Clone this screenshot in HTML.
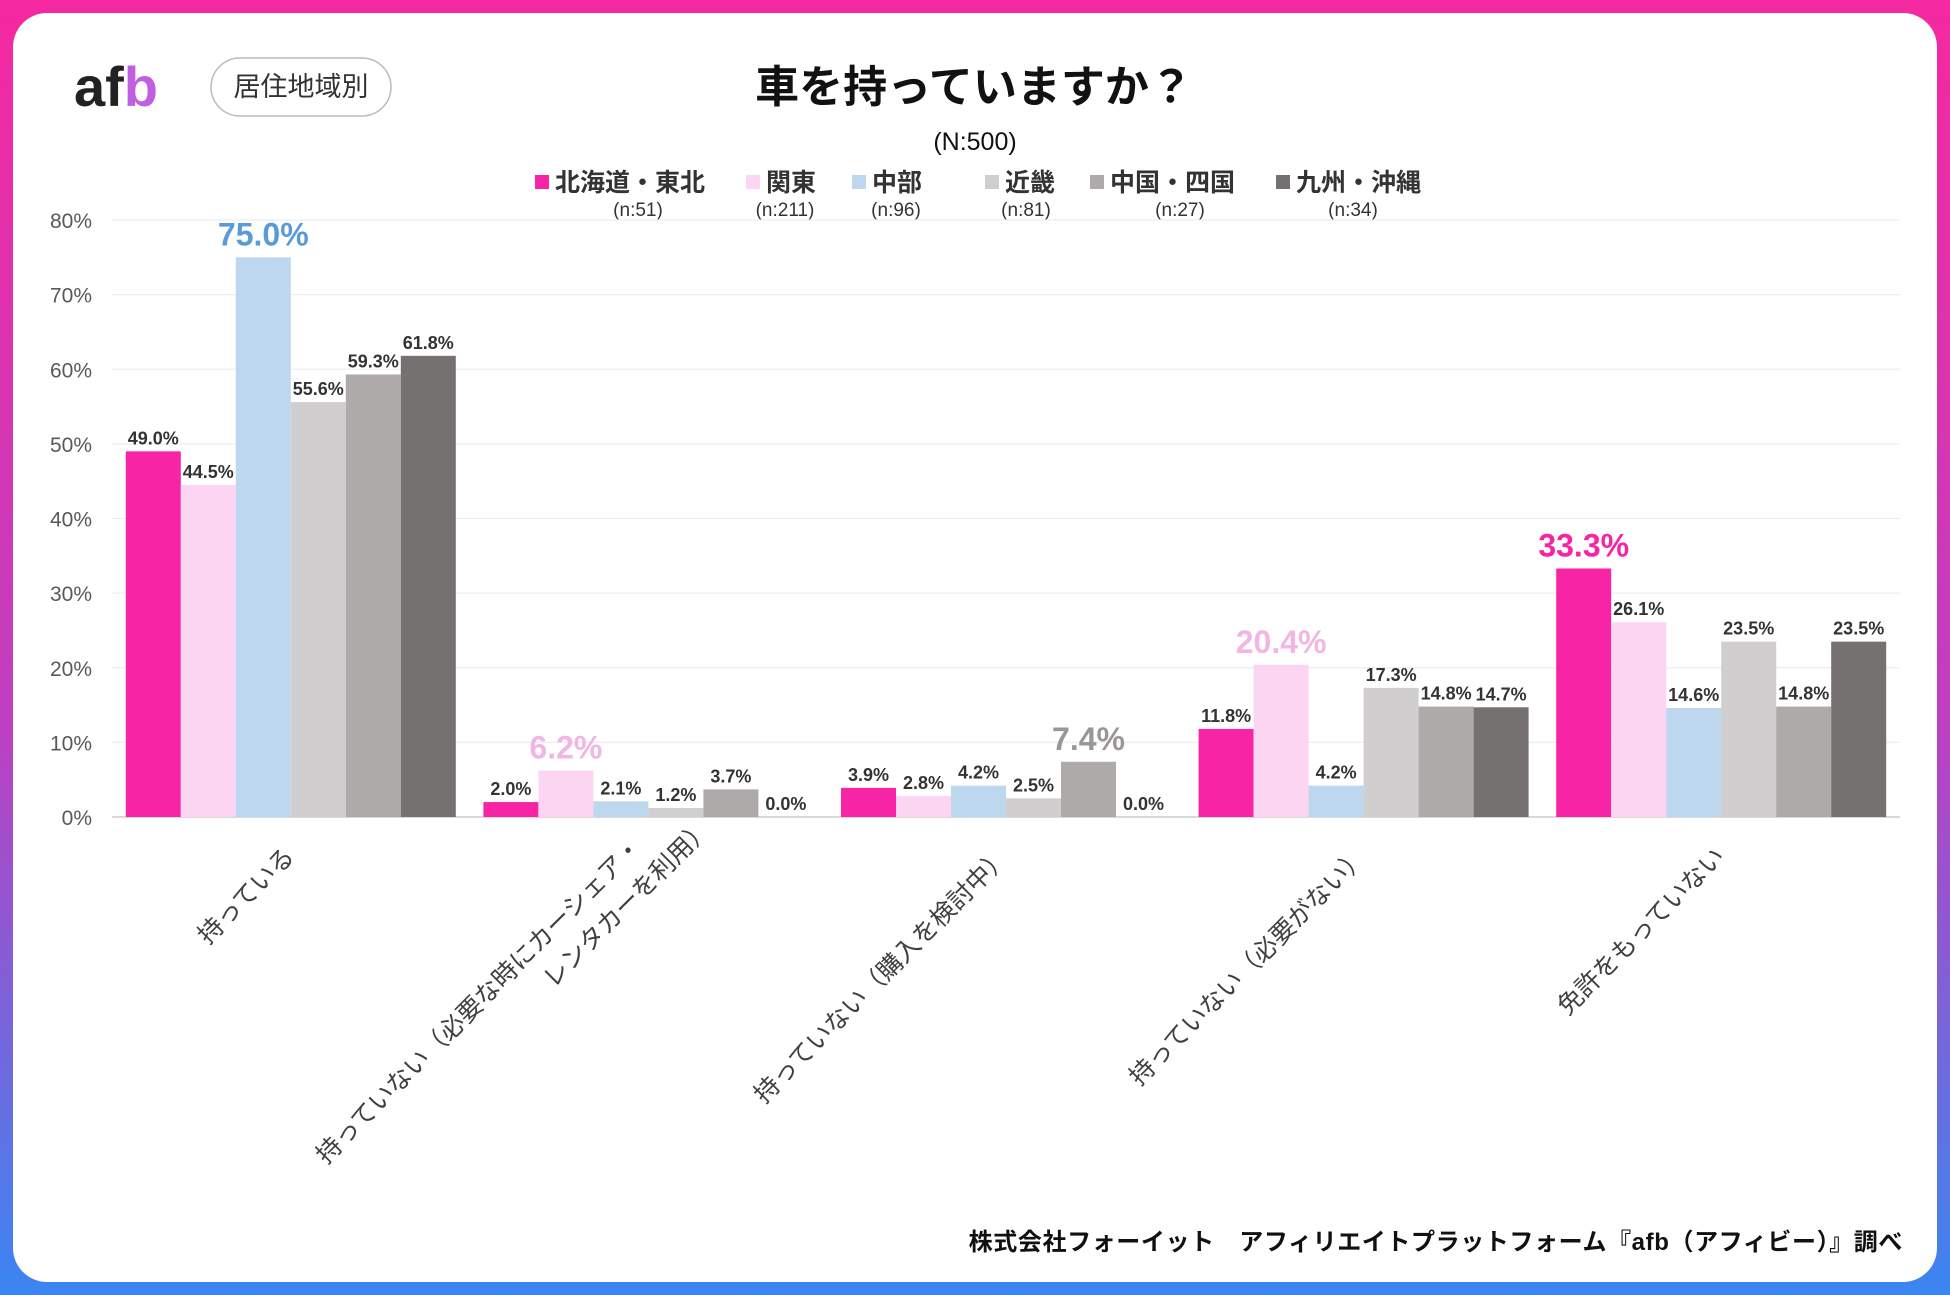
<!DOCTYPE html>
<html><head><meta charset="utf-8">
<style>
html,body{margin:0;padding:0;}
body{width:1950px;height:1295px;overflow:hidden;font-family:"Liberation Sans","Noto Sans CJK JP",sans-serif;}
#frame{position:absolute;left:0;top:0;width:1950px;height:1295px;background:linear-gradient(180deg,#f5289f 0%,#c03ec0 55%,#3a86f2 100%);}
#inner{position:absolute;left:13px;top:13px;width:1924px;height:1269px;background:#fff;border-radius:34px;}
svg{position:absolute;left:0;top:0;}
</style></head>
<body>
<div id="frame"></div>
<div id="inner"></div>
<svg id="chart" width="1950" height="1295" font-family="Liberation Sans, Noto Sans CJK JP, sans-serif">
  <text x="74" y="106" font-size="56" font-weight="bold" fill="#222">af<tspan fill="#c060e0">b</tspan></text>
  <rect x="211" y="58" width="180" height="58" rx="29" fill="#fff" stroke="#bbb" stroke-width="1.5"/>
  <text x="301" y="96" font-size="27" text-anchor="middle" fill="#333">居住地域別</text>
  <text x="974" y="102" font-size="44" font-weight="bold" text-anchor="middle" fill="#111">車を持っていますか？</text>
  <text x="975" y="150" font-size="25" text-anchor="middle" fill="#111">(N:500)</text>
  <g id="legend"></g>
  <g id="grid"></g><g id="bars"></g><g id="labels"></g><g id="cats"></g>
  <text x="1903" y="1250" font-size="24" letter-spacing="0.6" font-weight="bold" text-anchor="end" fill="#111">株式会社フォーイット　アフィリエイトプラットフォーム『afb（アフィビー）』調べ</text>
</svg>
<script>
const categories=[["持っている"],["持っていない（必要な時にカーシェア・","レンタカーを利用）"],["持っていない（購入を検討中）"],["持っていない（必要がない）"],["免許をもっていない"]];
const seriesNames=["北海道・東北","関東","中部","近畿","中国・四国","九州・沖縄"];
const seriesN=["(n:51)","(n:211)","(n:96)","(n:81)","(n:27)","(n:34)"];
const hokkaido=[49.0,2.0,3.9,11.8,33.3];
const kanto=[44.5,6.2,2.8,20.4,26.1];
const chubu=[75.0,2.1,4.2,4.2,14.6];
const kinki=[55.6,1.2,2.5,17.3,23.5];
const chugoku=[59.3,3.7,7.4,14.8,14.8];
const kyushu=[61.8,0.0,0.0,14.7,23.5];
const highlightSeries=[2,1,4,1,0];
const ticks=[0,10,20,30,40,50,60,70,80];
const series=[hokkaido,kanto,chubu,kinki,chugoku,kyushu];
const colors=["#f724a6","#fbd5f2","#bdd7ee","#d0cece","#aeaaaa","#767171"];
const hiColors=["#f724a6","#f2b6e4","#5b9bd5","#bbb","#9a9696","#767171"];
const NS="http://www.w3.org/2000/svg";
const L=112,R=1900,Y0=817,Y80=220;
const y=v=>Y0-(v/80)*(Y0-Y80);
const cw=(R-L)/categories.length,bw=55;
const x=(c,s)=>L+c*cw+(cw-6*bw)/2+s*bw;
function mk(tag,attrs,parent){const e=document.createElementNS(NS,tag);for(const k in attrs)e.setAttribute(k,attrs[k]);document.getElementById(parent).appendChild(e);return e;}
ticks.forEach(t=>{
  const ln=mk("line",{x1:L,x2:R,y1:y(t),y2:y(t),stroke:t===0?"#d9d9d9":"#eeeeee","stroke-width":t===0?2:1.2},"grid");
  
  
  const tx=mk("text",{x:92,y:y(t)+8,"font-size":21,"text-anchor":"end",fill:"#595959"},"grid");
  tx.textContent=t+"%";
  
  
});
series.forEach((vals,s)=>{
  vals.forEach((v,c)=>{
    const r=mk("rect",{x:x(c,s),y:y(v),width:bw,height:Y0-y(v),fill:colors[s]},"bars");
    
    
    const hi=highlightSeries[c]===s;
    const t=mk("text",{x:x(c,s)+bw/2,y:y(v)-(hi?12:7),"font-size":hi?32:18,"font-weight":"bold","text-anchor":"middle",fill:hi?hiColors[s]:"#333"},"labels");
    t.textContent=v.toFixed(1)+"%";
    
    
  });
});
categories.forEach((lines,c)=>{
  const cx=L+c*cw+cw/2;
  const g=mk("g",{transform:`translate(${cx+5},${858}) rotate(-45)`},"cats");
  
  
  if(lines.length===1){
    const t=document.createElementNS(NS,"text");
    t.setAttribute("x",0);t.setAttribute("y",0);t.setAttribute("font-size",25);t.setAttribute("text-anchor","end");t.setAttribute("fill","#404040");
    t.textContent=lines[0];g.appendChild(t);
  }else{
    lines.forEach((ln,i)=>{
      const t=document.createElementNS(NS,"text");
      t.setAttribute("x",i*62);t.setAttribute("y",-14+i*36);t.setAttribute("font-size",25);t.setAttribute("text-anchor","end");t.setAttribute("fill","#404040");
      t.textContent=ln;g.appendChild(t);
    });
  }
});
const legX=[535,746,852,985,1090,1276];
const nX=[638,785,896,1026,1180,1353];
seriesNames.forEach((n,s)=>{
  const r=mk("rect",{x:legX[s],y:175,width:14,height:14,fill:colors[s]},"legend");
  
  
  const t=mk("text",{x:legX[s]+20,y:191,"font-size":25,"font-weight":"bold",fill:"#333"},"legend");
  t.textContent=n;
  
  
  const t2=mk("text",{x:nX[s],y:216,"font-size":19,"text-anchor":"middle",fill:"#333"},"legend");
  t2.textContent=seriesN[s];
  
  
});
</script>
</body></html>
